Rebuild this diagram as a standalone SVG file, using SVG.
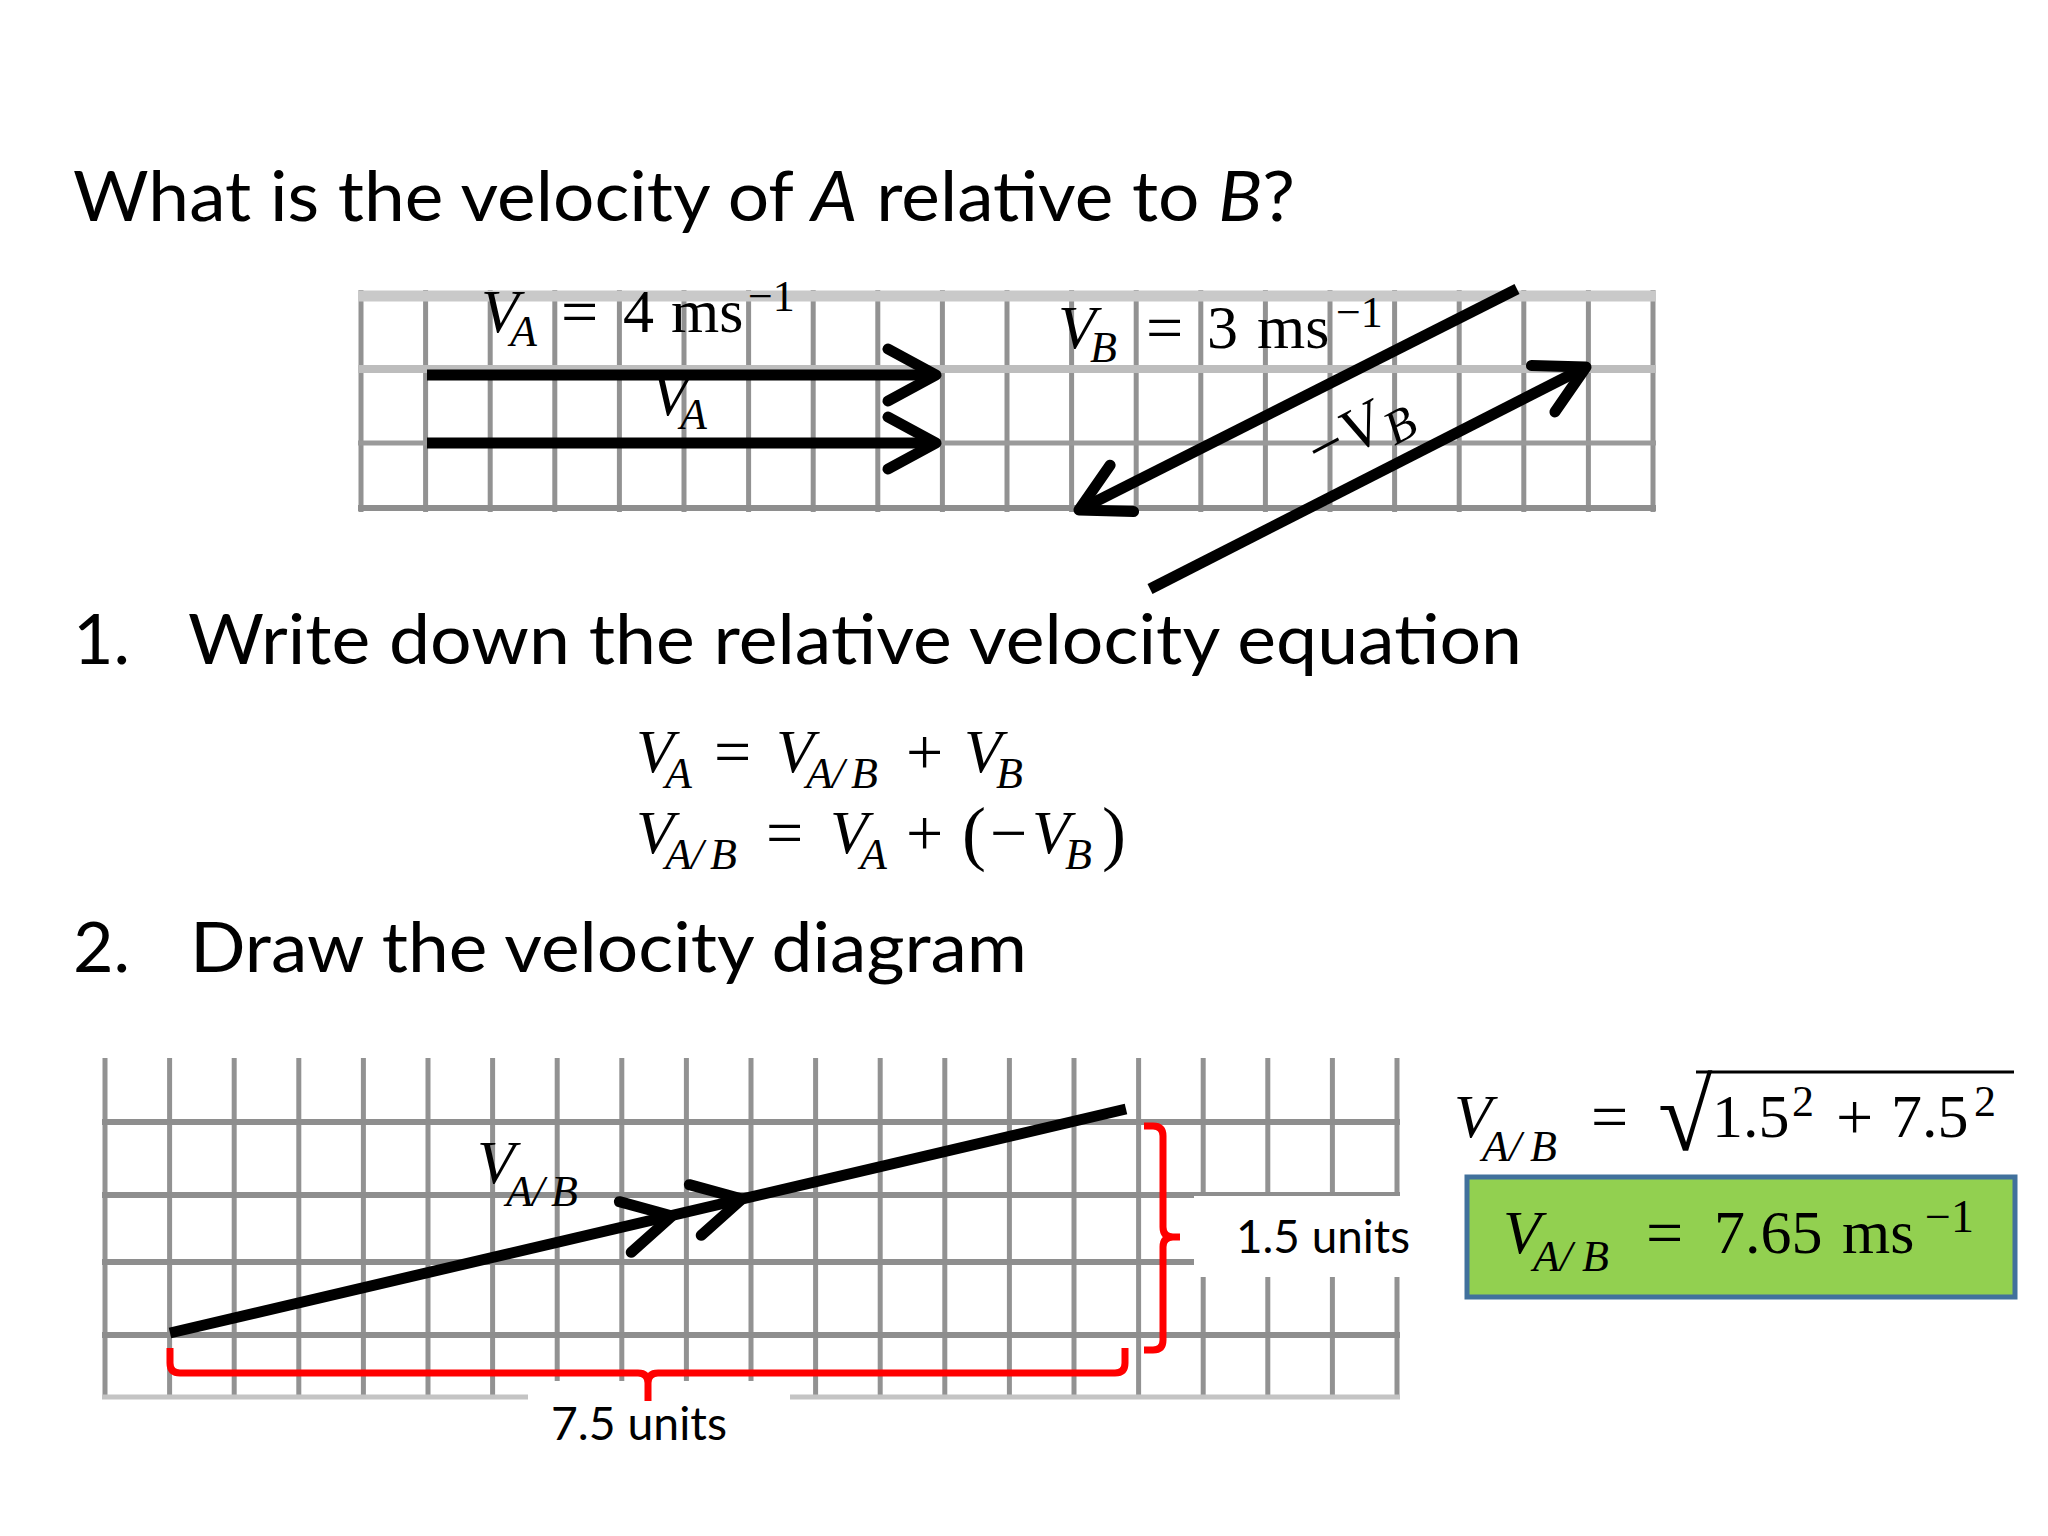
<svg xmlns="http://www.w3.org/2000/svg" xmlns:xlink="http://www.w3.org/1999/xlink" width="2048" height="1536" viewBox="0 0 2048 1536">
<style>
.h{font-family:Lato,"Open Sans","Liberation Sans",sans-serif;font-size:70px;fill:#000}
.u{font-family:Lato,"Open Sans","Liberation Sans",sans-serif;font-size:47px;fill:#000}
.m{font-family:"Liberation Serif","DejaVu Serif",serif;font-size:62px;fill:#000}
.i{font-style:italic}
.s{font-size:44px}
.op{font-size:66px}
.gv{stroke:#929292;stroke-width:5}
.gh{stroke:#8e8e8e;stroke-width:6}
.arr{stroke:#000;stroke-width:11;fill:none}
.chev{stroke:#000;stroke-width:11;fill:none;stroke-linecap:round;stroke-linejoin:round}
.red{stroke:#ff0000;stroke-width:7;fill:none;stroke-linejoin:round}
</style>
<defs>
<path id="chev" class="chev" d="M -48 -26 L 0 0 L -48 26"/>
</defs>
<rect x="0" y="0" width="2048" height="1536" fill="#ffffff"/>

<g id="title">
<text class="h" x="73" y="221" textLength="1222" lengthAdjust="spacingAndGlyphs">What is the velocity of <tspan class="i">A</tspan> relative to <tspan class="i">B</tspan>?</text>
</g>

<g id="top-grid">
<g class="gv">
<line x1="361" y1="290" x2="361" y2="512"/><line x1="425.6" y1="290" x2="425.6" y2="512"/><line x1="490.2" y1="290" x2="490.2" y2="512"/><line x1="554.8" y1="290" x2="554.8" y2="512"/><line x1="619.4" y1="290" x2="619.4" y2="512"/><line x1="684" y1="290" x2="684" y2="512"/><line x1="748.6" y1="290" x2="748.6" y2="512"/><line x1="813.2" y1="290" x2="813.2" y2="512"/><line x1="877.8" y1="290" x2="877.8" y2="512"/><line x1="942.4" y1="290" x2="942.4" y2="512"/><line x1="1007" y1="290" x2="1007" y2="512"/><line x1="1071.6" y1="290" x2="1071.6" y2="512"/><line x1="1136.2" y1="290" x2="1136.2" y2="512"/><line x1="1200.8" y1="290" x2="1200.8" y2="512"/><line x1="1265.4" y1="290" x2="1265.4" y2="512"/><line x1="1330" y1="290" x2="1330" y2="512"/><line x1="1394.6" y1="290" x2="1394.6" y2="512"/><line x1="1459.2" y1="290" x2="1459.2" y2="512"/><line x1="1523.8" y1="290" x2="1523.8" y2="512"/><line x1="1588.4" y1="290" x2="1588.4" y2="512"/><line x1="1653" y1="290" x2="1653" y2="512"/>
</g>
<line x1="358" y1="296" x2="1656" y2="296" stroke="#c9c9c9" stroke-width="11"/>
<line x1="358" y1="369" x2="1656" y2="369" stroke="#bdbdbd" stroke-width="8"/>
<line x1="358" y1="443" x2="1656" y2="443" stroke="#9a9a9a" stroke-width="5"/>
<line x1="358" y1="508" x2="1656" y2="508" stroke="#8e8e8e" stroke-width="6"/>
</g>

<g id="bottom-grid">
<g class="gv">
<line x1="105" y1="1058" x2="105" y2="1399"/><line x1="169.6" y1="1058" x2="169.6" y2="1399"/><line x1="234.2" y1="1058" x2="234.2" y2="1399"/><line x1="298.8" y1="1058" x2="298.8" y2="1399"/><line x1="363.4" y1="1058" x2="363.4" y2="1399"/><line x1="428" y1="1058" x2="428" y2="1399"/><line x1="492.6" y1="1058" x2="492.6" y2="1399"/><line x1="557.2" y1="1058" x2="557.2" y2="1399"/><line x1="621.8" y1="1058" x2="621.8" y2="1399"/><line x1="686.4" y1="1058" x2="686.4" y2="1399"/><line x1="751" y1="1058" x2="751" y2="1399"/><line x1="815.6" y1="1058" x2="815.6" y2="1399"/><line x1="880.2" y1="1058" x2="880.2" y2="1399"/><line x1="944.8" y1="1058" x2="944.8" y2="1399"/><line x1="1009.4" y1="1058" x2="1009.4" y2="1399"/><line x1="1074" y1="1058" x2="1074" y2="1399"/><line x1="1138.6" y1="1058" x2="1138.6" y2="1399"/><line x1="1203.2" y1="1058" x2="1203.2" y2="1399"/><line x1="1267.8" y1="1058" x2="1267.8" y2="1399"/><line x1="1332.4" y1="1058" x2="1332.4" y2="1399"/><line x1="1397" y1="1058" x2="1397" y2="1399"/>
</g>
<g class="gh">
<line x1="102" y1="1122" x2="1400" y2="1122"/>
<line x1="102" y1="1195" x2="1400" y2="1195"/>
<line x1="102" y1="1262" x2="1400" y2="1262"/>
<line x1="102" y1="1335" x2="1400" y2="1335"/>
</g>
<line x1="102" y1="1397" x2="1400" y2="1397" stroke="#c4c4c4" stroke-width="5"/>
<rect x="1194" y="1196" width="210" height="81" fill="#ffffff"/>
<rect x="528" y="1381" width="262" height="80" fill="#ffffff"/>
</g>

<g id="connectors">
<line class="arr" x1="427" y1="375" x2="932" y2="375"/>
<use xlink:href="#chev" transform="translate(936,375)"/>
<line class="arr" x1="427" y1="443" x2="932" y2="443"/>
<use xlink:href="#chev" transform="translate(936,443)"/>
<line class="arr" x1="1517" y1="289" x2="1083" y2="508"/>
<use xlink:href="#chev" transform="translate(1079,510) rotate(153.2)"/>
<line class="arr" x1="1150" y1="589" x2="1582" y2="369"/>
<use xlink:href="#chev" transform="translate(1586,367) rotate(-26.9)"/>
<line class="arr" x1="170" y1="1333" x2="1126" y2="1109" stroke-width="12"/>
<use xlink:href="#chev" transform="translate(672,1216) rotate(-13.2)"/>
<use xlink:href="#chev" transform="translate(742,1199) rotate(-13.2)"/>
<path class="red" d="M170,1348 L170,1363 Q170,1373 180,1373 L638,1373 Q648,1373 648,1383 L648,1401 M648,1383 Q648,1373 658,1373 L1115,1373 Q1125,1373 1125,1363 L1125,1348"/>
<path class="red" d="M1144,1126 L1153,1126 Q1163,1126 1163,1136 L1163,1227 Q1163,1237 1173,1237 L1180,1237 M1173,1237 Q1163,1237 1163,1247 L1163,1340 Q1163,1350 1153,1350 L1144,1350"/>
</g>

<g id="label-va-given">
<text class="m"><tspan class="i" x="481" y="332">V</tspan><tspan class="i s" x="510" y="346">A</tspan><tspan class="op" x="561" y="334">=</tspan><tspan x="623" y="332">4</tspan><tspan x="671" y="332">ms</tspan><tspan class="s" x="748" y="311">−1</tspan></text>
</g>
<g id="label-va">
<text class="m"><tspan class="i" x="651" y="415">V</tspan><tspan class="i s" x="680" y="429">A</tspan></text>
</g>
<g id="label-vb-given">
<text class="m"><tspan class="i" x="1058" y="348">V</tspan><tspan class="i s" x="1090" y="362">B</tspan><tspan class="op" x="1146" y="350">=</tspan><tspan x="1207" y="348">3</tspan><tspan x="1257" y="348">ms</tspan><tspan class="s" x="1336" y="327">−1</tspan></text>
</g>
<g id="label-minus-vb">
<text class="m" font-size="68" transform="rotate(-28 1320 472)"><tspan x="1320" y="472">−</tspan><tspan class="i" x="1358" y="472">V</tspan><tspan class="i" font-size="48" x="1398" y="484">B</tspan></text>
</g>

<g id="step1">
<text class="h" x="73" y="664">1.</text>
<text class="h" x="188" y="664" textLength="1334" lengthAdjust="spacingAndGlyphs">Write down the relative velocity equation</text>
</g>

<g id="equations">
<text class="m"><tspan class="i" x="636" y="772">V</tspan><tspan class="i s" x="665" y="788">A</tspan><tspan class="op" x="714" y="774">=</tspan><tspan class="i" x="776" y="772">V</tspan><tspan class="i s" x="806" y="788">A</tspan><tspan class="i s" x="832" y="788">/</tspan><tspan class="i s" x="851" y="788">B</tspan><tspan class="op" x="906" y="774">+</tspan><tspan class="i" x="964" y="772">V</tspan><tspan class="i s" x="996" y="788">B</tspan></text>
<text class="m"><tspan class="i" x="636" y="853">V</tspan><tspan class="i s" x="665" y="869">A</tspan><tspan class="i s" x="691" y="869">/</tspan><tspan class="i s" x="710" y="869">B</tspan><tspan class="op" x="766" y="855">=</tspan><tspan class="i" x="830" y="853">V</tspan><tspan class="i s" x="860" y="869">A</tspan><tspan class="op" x="906" y="855">+</tspan><tspan font-size="72" x="962" y="857">(</tspan><tspan class="op" x="990" y="855">−</tspan><tspan class="i" x="1032" y="853">V</tspan><tspan class="i s" x="1065" y="869">B</tspan><tspan font-size="72" x="1102" y="857">)</tspan></text>
</g>

<g id="step2">
<text class="h" x="73" y="972">2.</text>
<text class="h" x="190" y="972" textLength="837" lengthAdjust="spacingAndGlyphs">Draw the velocity diagram</text>
</g>

<g id="label-vab">
<text class="m"><tspan class="i" x="477" y="1183">V</tspan><tspan class="i s" x="506" y="1206">A</tspan><tspan class="i s" x="532" y="1206">/</tspan><tspan class="i s" x="551" y="1206">B</tspan></text>
</g>
<g id="label-15">
<text class="u" x="1236" y="1253" textLength="174" lengthAdjust="spacingAndGlyphs">1.5 units</text>
</g>
<g id="label-75">
<text class="u" x="551" y="1440" textLength="176" lengthAdjust="spacingAndGlyphs">7.5 units</text>
</g>

<g id="formula">
<text class="m"><tspan class="i" x="1454" y="1137">V</tspan><tspan class="i s" x="1482" y="1161">A</tspan><tspan class="i s" x="1509" y="1161">/</tspan><tspan class="i s" x="1530" y="1161">B</tspan><tspan class="op" x="1591" y="1139">=</tspan><tspan x="1712" y="1137">1.5</tspan><tspan class="s" x="1792" y="1116">2</tspan><tspan class="op" x="1836" y="1139">+</tspan><tspan x="1891" y="1137">7.5</tspan><tspan class="s" x="1974" y="1116">2</tspan></text>
<text class="m" font-size="84" transform="translate(1658,1150) scale(1.6,1.63)" x="0" y="0">√</text>
<line x1="1696" y1="1072" x2="2014" y2="1072" stroke="#000" stroke-width="3"/>
</g>

<g id="result">
<rect x="1467" y="1177" width="548" height="120" fill="#92d050" stroke="#41719c" stroke-width="5"/>
<text class="m" font-size="64" fill="#1c1c1c"><tspan class="i" x="1503" y="1253">V</tspan><tspan class="i s" x="1533" y="1271">A</tspan><tspan class="i s" x="1560" y="1271">/</tspan><tspan class="i s" x="1582" y="1271">B</tspan><tspan class="op" x="1646" y="1255">=</tspan><tspan x="1714" y="1253">7.65</tspan><tspan x="1842" y="1253">ms</tspan><tspan font-size="46" x="1925" y="1232">−1</tspan></text>
</g>
</svg>
